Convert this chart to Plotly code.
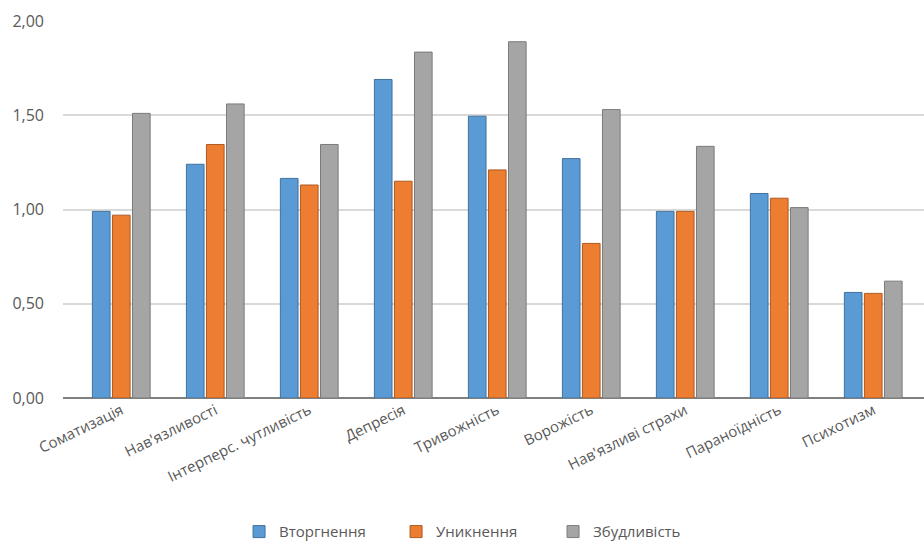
import plotly.graph_objects as go

categories = ["Соматизація", "Нав'язливості", "Інтерперс. чутливість", "Депресія",
              "Тривожність", "Ворожість", "Нав'язливі страхи", "Параноїдність", "Психотизм"]
vtorhnennia = [0.99, 1.24, 1.165, 1.69, 1.495, 1.27, 0.99, 1.085, 0.56]
unyknennia = [0.97, 1.345, 1.13, 1.15, 1.21, 0.82, 0.99, 1.06, 0.555]
zbudlyvist = [1.51, 1.56, 1.345, 1.835, 1.89, 1.53, 1.335, 1.01, 0.62]
series_names = ["Вторгнення", "Уникнення", "Збудливість"]
colors = ["#5B9BD5", "#ED7D31", "#A5A5A5"]
edge_colors = ["#41719C", "#AE5A21", "#7B7B7B"]
y_ticks = [0, 0.5, 1.0, 1.5, 2.0]

fig = go.Figure()
for name, vals, c, ec in zip(series_names, [vtorhnennia, unyknennia, zbudlyvist], colors, edge_colors):
    fig.add_trace(go.Bar(x=categories, y=vals, name=name,
                         marker=dict(color=c, line=dict(color=ec, width=1))))

font_family = "Open Sans, Noto Sans, sans-serif"
fig.update_layout(
    width=924, height=547,
    margin=dict(l=63, r=0, t=21, b=149, autoexpand=False),
    paper_bgcolor="white", plot_bgcolor="white",
    barmode="group", bargap=0.36, bargroupgap=0.12,
    separators=",.",
    font=dict(family=font_family, color="#595959", size=14),
    xaxis=dict(range=[-0.62, 8.54], tickangle=-26, showgrid=False, automargin=False,
               tickfont=dict(size=15, color="#595959"),
               showline=False, ticks=""),
    yaxis=dict(range=[0, 2.0], tickvals=y_ticks, tickformat=".2f", automargin=False,
               showgrid=True, gridcolor="#D9D9D9", gridwidth=1.5,
               zeroline=True, zerolinecolor="#7F7F7F", zerolinewidth=2,
               tickfont=dict(size=16, color="#595959"), ticklabelstandoff=18),
    legend=dict(orientation="h", x=0.478, xanchor="center", y=-0.355, yanchor="middle",
                font=dict(size=15, color="#595959"), itemwidth=30,
                entrywidth=112, traceorder="normal"),
    showlegend=True,
)
fig.write_html("out.html")
